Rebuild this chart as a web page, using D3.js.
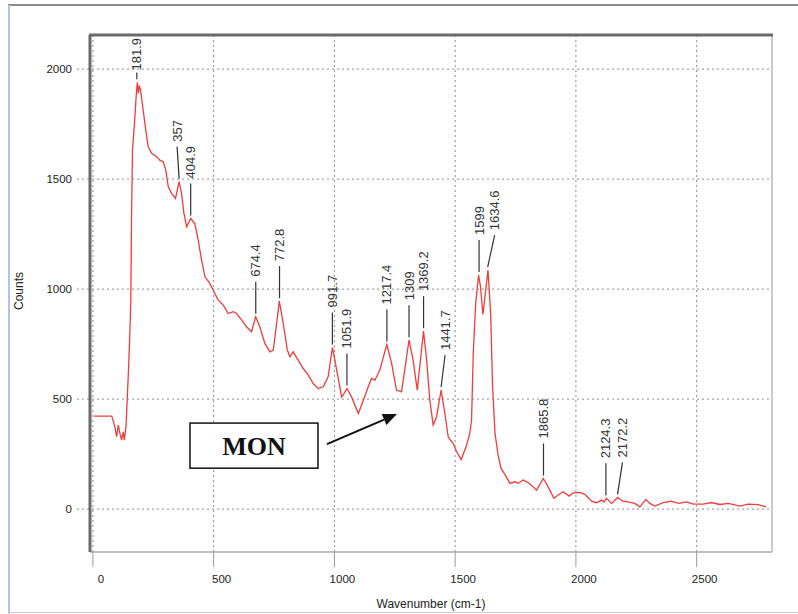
<!DOCTYPE html>
<html>
<head>
<meta charset="utf-8">
<script src="https://cdn.jsdelivr.net/npm/d3@7"></script>
<style>
  body { margin: 0; background: #fff; }
  text { font-family: Arial, "Liberation Sans", sans-serif; }
</style>
</head>
<body>
<svg id="mysvg" width="798" height="614"></svg>
<script>
// spectrum
const wavenumber = [5, 78, 91, 98, 105, 112, 119, 126, 130, 137, 142, 148, 153, 157, 160, 164, 174, 179, 184, 188, 192, 197,
  208, 219, 229, 243, 264, 277, 291, 302, 312, 326, 342, 357, 367, 377, 388, 405, 422, 436, 450, 464, 484, 498,
  519, 540, 560, 581, 595, 616, 636, 657, 674, 691, 712, 733, 747, 772, 788, 805, 816, 829, 850, 871, 892, 912,
  933, 954, 974, 992, 1012, 1030, 1036, 1052, 1071, 1099, 1120, 1140, 1154, 1168, 1188, 1217, 1237, 1257, 1278,
  1309, 1326, 1343, 1369, 1382, 1395, 1409, 1423, 1442, 1458, 1471, 1480, 1491, 1506, 1525, 1545, 1560, 1568,
  1575, 1585, 1597, 1605, 1615, 1625, 1636, 1647, 1655, 1665, 1678, 1690, 1710, 1727, 1747, 1761, 1782, 1803,
  1816, 1837, 1865, 1885, 1909, 1927, 1947, 1972, 1989, 2017, 2037, 2065, 2085, 2106, 2118, 2126, 2148, 2173,
  2193, 2216, 2244, 2265, 2290, 2306, 2327, 2361, 2396, 2424, 2458, 2486, 2527, 2562, 2596, 2631, 2679, 2713,
  2755, 2787];
const counts = [423, 423, 374, 329, 382, 344, 314, 351, 314, 374, 495, 647, 800, 950, 1329, 1632, 1783, 1874, 1940, 1890, 1925, 1905,
  1814, 1723, 1647, 1617, 1602, 1586, 1579, 1541, 1465, 1435, 1412, 1488, 1435, 1344, 1283, 1321, 1298, 1223, 1132, 1056, 1026, 995,
  950, 927, 889, 897, 889, 859, 829, 806, 874, 829, 753, 715, 723, 945, 844, 723, 692, 715, 677, 639, 609, 571,
  548, 556, 601, 735, 617, 510, 518, 548, 510, 435, 495, 556, 594, 586, 632, 748, 662, 541, 533,
  768, 677, 541, 809, 677, 495, 382, 420, 541, 430, 330, 314, 300, 262, 225, 283, 340, 405,
  708, 935, 1064, 1010, 885, 980, 1086, 889, 556, 344, 245, 185, 150, 117, 124, 117, 132, 120,
  109, 86, 139, 101, 49, 64, 79, 59, 74, 76, 67, 36, 29, 41, 33, 49, 26, 53,
  36, 33, 26, 10, 44, 26, 14, 29, 36, 26, 33, 23, 23, 30, 21, 26, 14, 23,
  20, 10];

// peak labels as printed
const peakLabels = ["181.9", "357", "404.9", "674.4", "772.8", "991.7", "1051.9", "1217.4", "1309", "1369.2",
  "1441.7", "1599", "1634.6", "1865.8", "2124.3", "2172.2"];

const xTicks = [0, 500, 1000, 1500, 2000, 2500];
const yTicks = [0, 500, 1000, 1500, 2000];

// arrow annotation, in data units
const annotation = { text: "MON", box: [402, 391, 932, 186], from: [969, 295], to: [1259, 432] };

const W = 798, H = 614;
const plot = { left: 90, top: 35, right: 772, bottom: 552 };
// labels pushed sideways so they don't collide
const labelNudge = { "357": -2, "1441.7": 4, "1634.6": 7, "2172.2": 5 };

const svg = d3.select('#mysvg');
const data = wavenumber.map((w, i) => [w, counts[i]]);

const x = d3.scaleLinear().domain([-12, 2812]).range([plot.left, plot.right]);
const y = d3.scaleLinear().domain([-195, 2155]).range([plot.bottom, plot.top]);

// window frame
svg.append('line').attr('x1', 8).attr('x2', W).attr('y1', 5).attr('y2', 5)
  .attr('stroke', '#8c8c8c').attr('stroke-width', 2);
svg.append('line').attr('x1', 9).attr('x2', 9).attr('y1', 5).attr('y2', H)
  .attr('stroke', '#b4c2e6').attr('stroke-width', 2);
svg.append('line').attr('x1', 8).attr('x2', W).attr('y1', 612.5).attr('y2', 612.5)
  .attr('stroke', '#cccccc').attr('stroke-width', 1);

// grid
svg.append('g').selectAll('line').data(yTicks).join('line')
  .attr('x1', 77).attr('x2', plot.right).attr('y1', d => y(d)).attr('y2', d => y(d))
  .attr('stroke', '#8a8a8a').attr('stroke-width', 1).attr('stroke-dasharray', '2,3');
svg.append('g').selectAll('line').data(xTicks).join('line')
  .attr('x1', d => x(d)).attr('x2', d => x(d)).attr('y1', plot.top).attr('y2', plot.bottom)
  .attr('stroke', '#8a8a8a').attr('stroke-width', 1).attr('stroke-dasharray', '2,3');
svg.append('g').selectAll('line').data(xTicks).join('line')
  .attr('x1', d => x(d)).attr('x2', d => x(d)).attr('y1', plot.bottom).attr('y2', plot.bottom + 15)
  .attr('stroke', '#999').attr('stroke-width', 1);

// tick labels
svg.append('g').selectAll('text').data(yTicks).join('text')
  .attr('x', 72).attr('y', d => y(d)).attr('dy', '0.35em').attr('text-anchor', 'end')
  .attr('font-size', 11.5).attr('fill', '#222').text(d => d);
svg.append('g').selectAll('text').data(xTicks).join('text')
  .attr('x', d => x(d) + 8).attr('y', 583).attr('text-anchor', 'middle')
  .attr('font-size', 11.5).attr('fill', '#222').text(d => d);

// axis titles
svg.append('text').attr('x', (plot.left + plot.right) / 2).attr('y', 608).attr('text-anchor', 'middle')
  .attr('font-size', 12).attr('fill', '#222').text('Wavenumber (cm-1)');
svg.append('text').attr('transform', 'translate(23,291) rotate(-90)').attr('text-anchor', 'middle')
  .attr('font-size', 12).attr('fill', '#222').text('Counts');

// plot frame, dark top/left and light bottom/right
svg.append('line').attr('x1', plot.left).attr('x2', plot.right).attr('y1', plot.bottom).attr('y2', plot.bottom)
  .attr('stroke', '#a8a8a8').attr('stroke-width', 1.5);
svg.append('line').attr('x1', plot.right).attr('x2', plot.right).attr('y1', plot.top).attr('y2', plot.bottom)
  .attr('stroke', '#b8b8b8').attr('stroke-width', 1.5);
svg.append('line').attr('x1', plot.left - 1).attr('x2', plot.right + 1).attr('y1', plot.top).attr('y2', plot.top)
  .attr('stroke', '#6a6a6a').attr('stroke-width', 3);
svg.append('line').attr('x1', plot.left).attr('x2', plot.left).attr('y1', plot.top).attr('y2', plot.bottom)
  .attr('stroke', '#6a6a6a').attr('stroke-width', 3);

// spectrum
svg.append('clipPath').attr('id', 'clip').append('rect')
  .attr('x', plot.left + 1).attr('y', plot.top + 1)
  .attr('width', plot.right - plot.left - 2).attr('height', plot.bottom - plot.top - 2);
const line = d3.line().x(d => x(d[0])).y(d => y(d[1]));
svg.append('path').datum(data).attr('d', line).attr('clip-path', 'url(#clip)')
  .attr('fill', 'none').attr('stroke', '#f03c3c').attr('stroke-width', 1.3);

// peak labels with leader lines
const gLab = svg.append('g');
peakLabels.forEach(lab => {
  const v = +lab;
  const near = data.filter(d => Math.abs(d[0] - v) <= 6);
  const peak = d3.max(near, d => d[1]);
  const px = x(v), py = y(peak);
  const nx = px + (labelNudge[lab] || 0);
  const t = gLab.append('text').attr('font-size', 13).attr('fill', '#333').text(lab);
  const len = t.node().getComputedTextLength();
  const lineBottom = py - 3;
  let lineTop = lineBottom - 32;
  let textBottom = lineTop - 5;
  if (textBottom - len < plot.top + 3) {
    textBottom = plot.top + 3 + len;
    lineTop = Math.min(lineBottom, textBottom + 2);
  }
  t.attr('transform', `translate(${nx},${textBottom}) rotate(-90)`).attr('dy', '0.35em');
  gLab.append('line').attr('x1', px).attr('y1', lineBottom).attr('x2', nx).attr('y2', lineTop)
    .attr('stroke', '#333').attr('stroke-width', 1.2);
});

// MON box and arrow
const b = annotation.box;
svg.append('rect').attr('x', x(b[0])).attr('y', y(b[1]))
  .attr('width', x(b[2]) - x(b[0])).attr('height', y(b[3]) - y(b[1]))
  .attr('fill', '#fff').attr('stroke', '#111').attr('stroke-width', 1.5);
svg.append('text').attr('x', (x(b[0]) + x(b[2])) / 2).attr('y', (y(b[1]) + y(b[3])) / 2 + 9)
  .attr('text-anchor', 'middle')
  .style('font-family', '"Liberation Serif", "Times New Roman", serif')
  .attr('font-weight', 'bold').attr('font-size', 26).attr('fill', '#111').text(annotation.text);

const x0 = x(annotation.from[0]), y0 = y(annotation.from[1]);
const x1 = x(annotation.to[0]), y1 = y(annotation.to[1]);
const ang = Math.atan2(y1 - y0, x1 - x0);
const headLen = 14, headW = 6;
const bx = x1 - headLen * Math.cos(ang), by = y1 - headLen * Math.sin(ang);
svg.append('line').attr('x1', x0).attr('y1', y0).attr('x2', bx).attr('y2', by)
  .attr('stroke', '#111').attr('stroke-width', 2);
svg.append('path')
  .attr('d', `M${x1},${y1}L${bx + headW * Math.sin(ang)},${by - headW * Math.cos(ang)}L${bx - headW * Math.sin(ang)},${by + headW * Math.cos(ang)}Z`)
  .attr('fill', '#111');
</script>
</body>
</html>
